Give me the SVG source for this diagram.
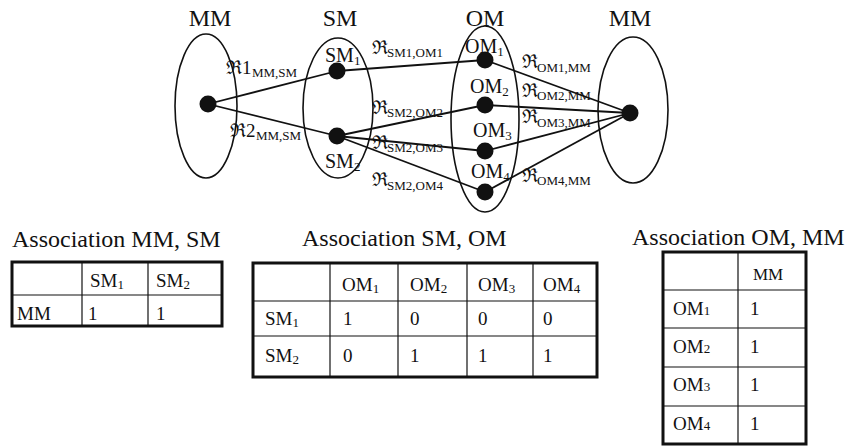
<svg xmlns="http://www.w3.org/2000/svg" width="846" height="446" viewBox="0 0 846 446">
  <style>
    text { font-family: "Liberation Serif", "Times New Roman", serif; fill: #111; }
    .set { fill: none; stroke: #111; stroke-width: 1.6; }
    .dot { fill: #111; }
    .edge { stroke: #111; stroke-width: 1.8; fill: none; }
    .title { font-size: 24px; text-anchor: middle; }
    .cap { font-size: 24px; }
    .node { font-size: 20px; }
    .rel { font-size: 19px; }
    .sub { font-size: 13px; }
    .cell { font-size: 19px; }
    .frame { fill: #fff; stroke: #111; stroke-width: 3; }
    .grid { stroke: #111; stroke-width: 1.2; }
  </style>

  <!-- set titles -->
  <g id="titles">
    <text class="title" x="210" y="26">MM</text>
    <text class="title" x="340" y="26">SM</text>
    <text class="title" x="485" y="26">OM</text>
    <text class="title" x="630" y="26">MM</text>
  </g>

  <!-- sets -->
  <g id="set-mm-left"><ellipse class="set" cx="206" cy="106" rx="31" ry="72"/></g>
  <g id="set-sm"><ellipse class="set" cx="338" cy="108" rx="35" ry="70"/></g>
  <g id="set-om"><ellipse class="set" cx="485" cy="119" rx="34" ry="93"/></g>
  <g id="set-mm-right"><ellipse class="set" cx="633" cy="110" rx="35" ry="73"/></g>

  <!-- connectors -->
  <g id="connectors">
    <line class="edge" x1="208" y1="104" x2="337" y2="71"/>
    <line class="edge" x1="208" y1="104" x2="337" y2="136"/>
    <line class="edge" x1="337" y1="71" x2="485" y2="60"/>
    <line class="edge" x1="337" y1="136" x2="485" y2="105"/>
    <line class="edge" x1="337" y1="136" x2="485" y2="151"/>
    <line class="edge" x1="337" y1="136" x2="485" y2="192"/>
    <line class="edge" x1="485" y1="60" x2="630" y2="113"/>
    <line class="edge" x1="485" y1="105" x2="630" y2="113"/>
    <line class="edge" x1="485" y1="151" x2="630" y2="113"/>
    <line class="edge" x1="485" y1="192" x2="630" y2="113"/>

    <text class="rel" x="226" y="74">ℜ1<tspan class="sub" x="252" y="77">MM,SM</tspan></text>
    <text class="rel" x="230" y="137">ℜ2<tspan class="sub" x="256" y="140">MM,SM</tspan></text>
    <text class="rel" x="372" y="54">ℜ<tspan class="sub" x="387" y="57">SM1,OM1</tspan></text>
    <text class="rel" x="372" y="114">ℜ<tspan class="sub" x="387" y="117">SM2,OM2</tspan></text>
    <text class="rel" x="372" y="149">ℜ<tspan class="sub" x="387" y="152">SM2,OM3</tspan></text>
    <text class="rel" x="372" y="186">ℜ<tspan class="sub" x="387" y="190">SM2,OM4</tspan></text>
    <text class="rel" x="522" y="68">ℜ<tspan class="sub" x="537" y="72">OM1,MM</tspan></text>
    <text class="rel" x="522" y="97">ℜ<tspan class="sub" x="537" y="100">OM2,MM</tspan></text>
    <text class="rel" x="522" y="123">ℜ<tspan class="sub" x="537" y="127">OM3,MM</tspan></text>
    <text class="rel" x="522" y="182">ℜ<tspan class="sub" x="537" y="185">OM4,MM</tspan></text>
  </g>

  <!-- elements -->
  <g id="node-mm-left"><circle class="dot" cx="208" cy="104" r="8.5"/></g>
  <g id="node-sm1"><circle class="dot" cx="337" cy="71" r="8.5"/><text class="node" x="325" y="62">SM<tspan class="sub" dy="3">1</tspan></text></g>
  <g id="node-sm2"><circle class="dot" cx="337" cy="136" r="8.5"/><text class="node" x="325" y="168">SM<tspan class="sub" dy="3">2</tspan></text></g>
  <g id="node-om1"><circle class="dot" cx="485" cy="60" r="8.5"/><text class="node" x="465" y="53">OM<tspan class="sub" dy="3">1</tspan></text></g>
  <g id="node-om2"><circle class="dot" cx="485" cy="105" r="8.5"/><text class="node" x="470" y="93">OM<tspan class="sub" dy="3">2</tspan></text></g>
  <g id="node-om3"><circle class="dot" cx="485" cy="151" r="8.5"/><text class="node" x="473" y="137">OM<tspan class="sub" dy="3">3</tspan></text></g>
  <g id="node-om4"><circle class="dot" cx="485" cy="192" r="8.5"/><text class="node" x="471" y="178">OM<tspan class="sub" dy="3">4</tspan></text></g>
  <g id="node-mm-right"><circle class="dot" cx="630" cy="113" r="8.5"/></g>

  <!-- association MM, SM -->
  <g id="table-mm-sm">
    <text class="cap" x="12" y="247">Association MM, SM</text>
    <rect class="frame" x="12" y="262" width="210" height="64"/>
    <line class="grid" x1="82" y1="262" x2="82" y2="326"/>
    <line class="grid" x1="148" y1="262" x2="148" y2="326"/>
    <line class="grid" x1="12" y1="295" x2="222" y2="295"/>
    <text class="cell" x="90" y="287">SM<tspan class="sub" dy="2">1</tspan></text>
    <text class="cell" x="156" y="287">SM<tspan class="sub" dy="2">2</tspan></text>
    <text class="cell" x="17" y="320">MM</text>
    <text class="cell" x="88" y="320">1</text>
    <text class="cell" x="156" y="320">1</text>
  </g>

  <!-- association SM, OM -->
  <g id="table-sm-om">
    <text class="cap" x="302" y="246">Association SM, OM</text>
    <rect class="frame" x="253" y="263" width="344" height="114"/>
    <line class="grid" x1="330" y1="263" x2="330" y2="377"/>
    <line class="grid" x1="398" y1="263" x2="398" y2="377"/>
    <line class="grid" x1="467" y1="263" x2="467" y2="377"/>
    <line class="grid" x1="533" y1="263" x2="533" y2="377"/>
    <line class="grid" x1="253" y1="301" x2="597" y2="301"/>
    <line class="grid" x1="253" y1="336" x2="597" y2="336"/>
    <text class="cell" x="342" y="291">OM<tspan class="sub" dy="2">1</tspan></text>
    <text class="cell" x="410" y="291">OM<tspan class="sub" dy="2">2</tspan></text>
    <text class="cell" x="478" y="291">OM<tspan class="sub" dy="2">3</tspan></text>
    <text class="cell" x="543" y="291">OM<tspan class="sub" dy="2">4</tspan></text>
    <text class="cell" x="265" y="325">SM<tspan class="sub" dy="2">1</tspan></text>
    <text class="cell" x="343" y="325">1</text>
    <text class="cell" x="410" y="325">0</text>
    <text class="cell" x="478" y="325">0</text>
    <text class="cell" x="543" y="325">0</text>
    <text class="cell" x="265" y="362">SM<tspan class="sub" dy="2">2</tspan></text>
    <text class="cell" x="343" y="362">0</text>
    <text class="cell" x="410" y="362">1</text>
    <text class="cell" x="478" y="362">1</text>
    <text class="cell" x="543" y="362">1</text>
  </g>

  <!-- association OM, MM -->
  <g id="table-om-mm">
    <text class="cap" x="632" y="245">Association OM, MM</text>
    <rect class="frame" x="663" y="252" width="143" height="192"/>
    <line class="grid" x1="738" y1="252" x2="738" y2="444"/>
    <line class="grid" x1="663" y1="290" x2="806" y2="290"/>
    <line class="grid" x1="663" y1="328" x2="806" y2="328"/>
    <line class="grid" x1="663" y1="367" x2="806" y2="367"/>
    <line class="grid" x1="663" y1="406" x2="806" y2="406"/>
    <text class="cell" x="753" y="280" style="font-size:17px">MM</text>
    <text class="cell" x="673" y="315">OM<tspan class="sub">1</tspan></text>
    <text class="cell" x="750" y="315">1</text>
    <text class="cell" x="673" y="353">OM<tspan class="sub">2</tspan></text>
    <text class="cell" x="750" y="353">1</text>
    <text class="cell" x="673" y="391">OM<tspan class="sub">3</tspan></text>
    <text class="cell" x="750" y="391">1</text>
    <text class="cell" x="673" y="430">OM<tspan class="sub">4</tspan></text>
    <text class="cell" x="750" y="430">1</text>
  </g>
</svg>
